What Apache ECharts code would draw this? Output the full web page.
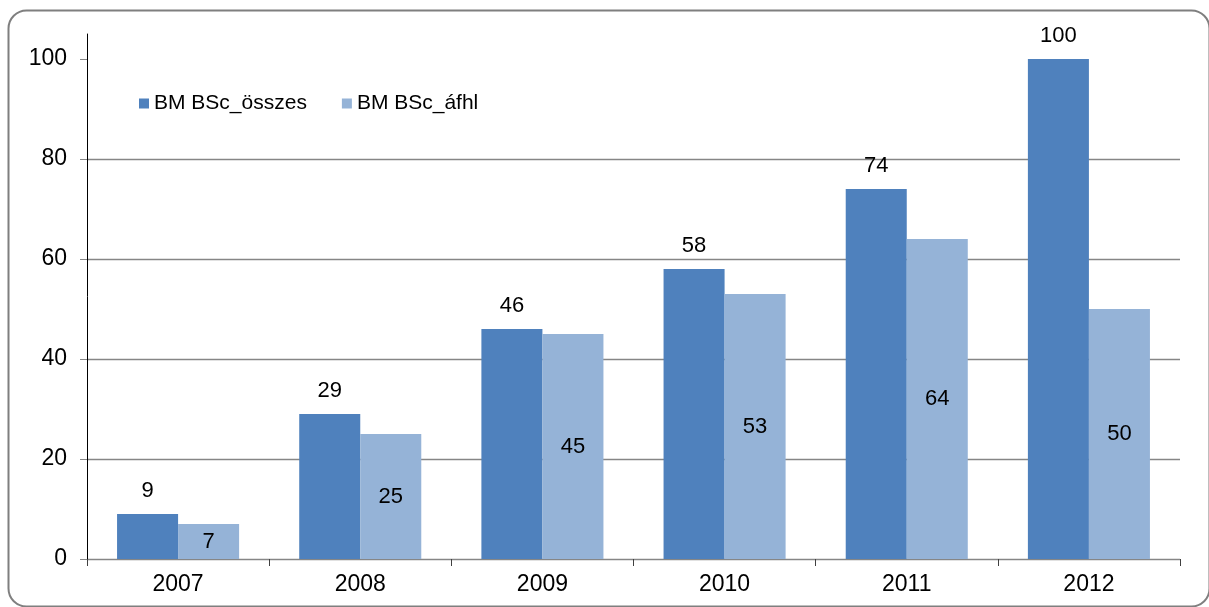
<!DOCTYPE html>
<html><head><meta charset="utf-8">
<script src="https://cdn.jsdelivr.net/npm/echarts@6/dist/echarts.min.js"></script>
<style>html,body{margin:0;padding:0;background:#fff}#c{width:1209px;height:607px}</style>
</head><body><div id="c"></div>
<script>
const categories = ['2007','2008','2009','2010','2011','2012'];
const seriesNames = ['BM BSc_összes','BM BSc_áfhl'];
const osszes = [9, 29, 46, 58, 74, 100];
const afhl = [7, 25, 45, 53, 64, 50];
const yTicks = [0, 20, 40, 60, 80, 100];

const FONT = '"Liberation Sans", Arial, sans-serif';
const chart = echarts.init(document.getElementById('c'));
chart.setOption({
  animation: false,
  textStyle: {fontFamily: FONT},
  graphic: [{
    type: 'rect', left: 6, top: 8,
    shape: {width: 1201, height: 596, r: 18},
    style: {fill: 'none', stroke: '#7f7f7f', lineWidth: 2}, z: 100
  }],
  legend: {
    left: 134, top: 88, itemWidth: 10, itemHeight: 10, itemGap: 35,
    textStyle: {fontSize: 21, color: '#000', fontFamily: FONT},
    icon: 'rect',
    data: seriesNames
  },
  grid: {left: 87, right: 29, top: 34, bottom: 48, containLabel: false},
  xAxis: {
    type: 'category', data: categories,
    axisLine: {lineStyle: {color: '#868686', width: 1}},
    axisTick: {show: true, inside: false, length: 7, lineStyle: {color: '#404040'}},
    axisLabel: {fontSize: 23, color: '#000', margin: 14, fontFamily: FONT}
  },
  yAxis: {
    type: 'value', min: 0, max: 105, interval: 20,
    axisLine: {show: true, lineStyle: {color: '#000', width: 1}},
    axisTick: {show: true, length: 7, customValues: yTicks, lineStyle: {color: '#868686'}},
    axisLabel: {fontSize: 23, color: '#000', margin: 20, customValues: yTicks, fontFamily: FONT},
    splitLine: {show: true, showMaxLine: false, lineStyle: {color: '#868686', width: 1.3}}
  },
  series: [{
    name: seriesNames[0], type: 'bar', data: osszes,
    barGap: '0%', barCategoryGap: '33%',
    itemStyle: {color: '#4F81BD'},
    label: {show: true, position: 'top', distance: 12, fontSize: 22, color: '#000', fontFamily: FONT}
  }, {
    name: seriesNames[1], type: 'bar', data: afhl,
    barGap: '0%', barCategoryGap: '33%',
    itemStyle: {color: '#95B3D7'},
    label: {show: true, position: 'inside', fontSize: 22, color: '#000', fontFamily: FONT}
  }]
});
</script></body></html>
